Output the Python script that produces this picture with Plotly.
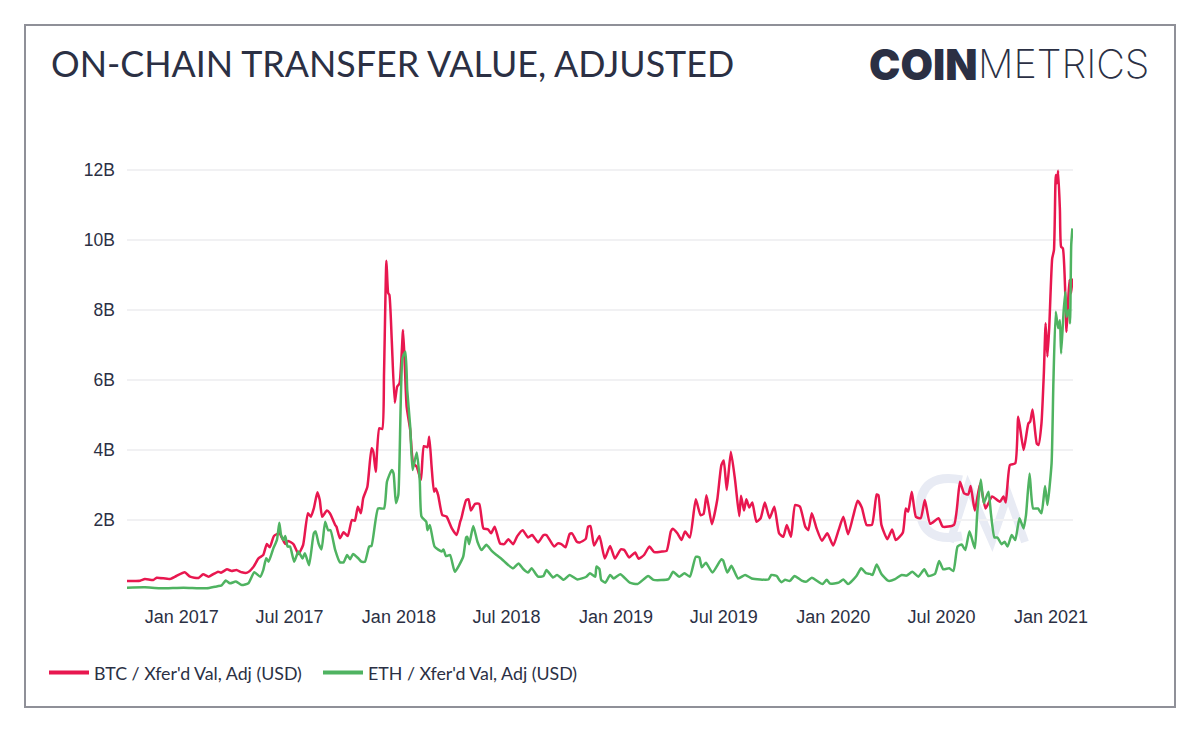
import plotly.graph_objects as go
import pandas as pd

start_date = "2016-10-01"

# values in billions of USD, days counted from start_date
btc_days = [0,22,30,44,50,72,83,97,106,120,128,137,153,158,168,176,184,193,202,212,221,229,235,240,247,256,266,271,280,288,296,304,309,314,320,324,328,336,341,350,352,358,364,371,378,383,388,393,397,404,411,414,418,424,429,432,436,439,441,445,450,454,458,464,467,470,476,481,487,494,499,505,508,512,516,519,523,530,537,546,554,560,
    562,570,574,578,585,592,599,607,612,618,627,634,641,649,656,665,674,681,691,700,705,718,724,730,737,744,748,756,761,771,775,779,785,794,803,812,820,830,836,844,854,860,869,878,886,899,907,914,917,925,932,938,946,956,964,969,974,983,992,999,1003,1008,1015,1022,1029,1032,1037,1041,1046,1051,1058,1065,1072,1080,1088,1096,
    1103,1109,1116,1123,1131,1140,1145,1151,1159,1168,1177,1187,1196,1204,1212,1221,1228,1235,1243,1252,1260,1263,1268,1278,1286,1292,1304,1309,1313,1319,1326,1334,1341,1350,1364,1371,1390,1400,1407,1414,1418,1425,1434,1443,1454,1467,1473,1477,1484,1493,1498,1507,1515,1518,1522,1529,1532,1537,1541,1544,1547,1550,1555,1558,1561,1563,1565,1568,1570,1573,1577,1579,1581,1584,1587,1589]
btc_vals = [.257,.267,.314,.286,.352,.314,.40,.505,.381,.343,.448,.381,.524,.495,.59,.543,.571,.505,.495,.648,.905,1.0,1.314,1.22,1.543,1.62,1.314,1.40,1.305,1.03,1.286,2.19,2.095,2.33,2.79,2.57,2.095,2.27,2.19,1.857,1.81,1.476,1.648,1.54,2.0,1.98,2.38,2.19,2.62,2.95,4.05,3.95,3.38,4.62,4.6,6.19,9.41,8.48,8.43,7.14,5.35,5.81,5.9,7.43,6.38,5.24,4.57,3.62,3.52,3.14,4.11,4.08,4.38,3.52,2.81,2.9,2.71,2.14,2.1,1.76,1.57,1.95,
    2.05,2.57,2.59,2.27,2.46,2.46,1.76,1.73,1.62,1.81,1.33,1.31,1.45,1.31,1.54,1.71,1.50,1.57,1.36,1.57,1.57,1.24,1.33,1.31,1.22,1.60,1.62,1.38,1.36,1.46,1.81,1.83,1.27,1.54,.90,1.26,.90,1.16,1.14,.93,1.07,.89,1.0,1.24,1.08,1.10,1.12,1.67,1.75,1.62,1.43,1.67,1.50,2.59,2.14,2.17,2.71,1.88,2.57,3.57,3.70,2.86,3.95,3.14,2.11,2.69,2.27,2.59,2.36,2.5,1.95,2.05,2.5,2.05,2.38,1.62,
    1.52,1.86,1.52,2.43,2.38,1.81,1.71,2.19,1.76,1.41,1.62,1.27,1.71,2.09,1.59,2.14,2.55,2.36,1.86,1.86,2.73,2.71,1.86,1.45,1.73,1.43,1.64,2.33,2.24,2.81,2.09,2.05,2.57,1.89,2.05,1.81,1.86,3.09,2.76,2.73,2.97,2.27,3.05,2.33,2.67,2.52,2.67,2.5,3.57,3.62,4.95,4.0,4.76,4.81,5.16,4.19,4.14,4.76,6.19,7.62,6.67,7.48,9.47,9.71,11.86,11.62,11.98,10.86,9.81,9.76,8.48,7.38,8.0,8.86,8.48,8.9]

eth_days = [0,30,55,95,134,148,159,166,173,183,193,204,214,224,229,234,238,246,252,256,259,263,266,270,274,281,288,295,299,306,314,317,322,327,333,338,342,350,358,364,370,375,380,389,394,400,407,411,422,432,437,445,448,452,456,463,468,471,476,480,487,492,495,503,505,509,517,529,532,536,543,551,
    565,570,572,575,582,589,596,604,613,621,630,641,649,658,666,674,680,691,700,705,716,723,734,744,757,772,778,787,789,794,797,804,812,818,829,845,858,876,885,910,918,928,937,946,956,962,966,973,984,999,1002,1009,1016,1027,1039,1050,1078,1083,1092,1097,
    1100,1106,1114,1122,1134,1142,1151,1169,1176,1182,1196,1204,1212,1226,1234,1242,1249,1253,1260,1268,1280,1291,1302,1310,1320,1330,1340,1347,1358,1365,1372,1382,1389,1396,1403,1409,1416,1425,1429,1435,1440,1448,1452,1458,1463,1470,1475,1480,1487,1493,1500,1507,1511,1517,1523,1531,1537,1543,1547,1554,1557,1561,1565,1568,1570,1574,1577,1579,1583,1585,1587,1589]
eth_vals = [.066,.076,.05,.066,.05,.095,.13,.27,.19,.24,.14,.19,.505,.38,.57,.905,.81,1.19,1.43,1.92,1.57,1.43,1.54,1.24,1.24,.81,1.10,.90,1.05,.71,1.62,1.67,1.33,1.16,1.95,1.71,1.71,1.14,.79,.79,1.0,.88,1.03,.90,.81,.81,1.24,1.26,2.33,2.33,3.10,3.43,3.33,2.48,2.71,6.62,6.81,5.71,4.67,3.43,3.93,3.14,2.10,1.95,1.71,1.86,1.24,1.10,1.16,.97,1.0,.52,
    .95,1.50,1.52,1.31,1.83,1.38,1.14,1.29,1.12,1.0,.88,.71,.62,.76,.60,.50,.62,.38,.40,.57,.36,.43,.29,.43,.30,.38,.48,.38,.67,.60,.29,.21,.43,.33,.45,.21,.17,.40,.29,.31,.52,.38,.48,.38,.95,.93,.65,.78,.50,.88,.84,.50,.69,.33,.43,.33,.30,.43,.40,.27,
    .22,.29,.26,.40,.27,.24,.35,.17,.29,.18,.21,.30,.17,.40,.62,.48,.46,.43,.73,.46,.26,.31,.43,.41,.52,.38,.59,.40,.46,.83,.59,.62,.54,1.24,1.30,1.14,1.68,1.19,2.19,3.16,2.48,2.81,2.19,1.50,1.50,1.31,1.38,1.24,1.57,1.43,2.05,1.76,2.14,3.33,2.33,2.33,2.19,2.97,2.43,3.62,5.9,7.95,7.48,7.71,6.76,7.9,8.52,7.81,8.0,7.62,9.86,10.33]

btc_name = "BTC / Xfer'd Val, Adj (USD)"
eth_name = "ETH / Xfer'd Val, Adj (USD)"
y_ticks = [2, 4, 6, 8, 10, 12]
y_labels = ["2B", "4B", "6B", "8B", "10B", "12B"]
x_ticks = ["2017-01-01", "2017-07-01", "2018-01-01", "2018-07-01", "2019-01-01",
           "2019-07-01", "2020-01-01", "2020-07-01", "2021-01-01"]
x_labels = ["Jan 2017", "Jul 2017", "Jan 2018", "Jul 2018", "Jan 2019",
            "Jul 2019", "Jan 2020", "Jul 2020", "Jan 2021"]

DARK = "#2b3044"
BTC_COLOR = "#e8174f"
ETH_COLOR = "#4fb361"
# the page body has an 8px margin, everything below is in window pixels
PAGE = 8
WIDTH, HEIGHT = 1192, 724
LEFT, RIGHT, TOP, BOTTOM = 127 - PAGE, 1073 - PAGE, 165 - PAGE, 590 - PAGE


def px(x):
    return (x - PAGE - LEFT) / (RIGHT - LEFT)


def py(y):
    return (BOTTOM - (y - PAGE)) / (BOTTOM - TOP)


def to_dates(days):
    return pd.Timestamp(start_date) + pd.to_timedelta(days, unit="D")


fig = go.Figure()

fig.add_trace(go.Scatter(x=to_dates(btc_days), y=btc_vals, mode="lines", showlegend=False,
                         line=dict(color=BTC_COLOR, width=2.5, shape="spline", smoothing=0.5)))
fig.add_trace(go.Scatter(x=to_dates(eth_days), y=eth_vals, mode="lines", showlegend=False,
                         line=dict(color=ETH_COLOR, width=2.5, shape="spline", smoothing=0.5)))
# legend keys are thicker than the lines
fig.add_trace(go.Scatter(x=[None], y=[None], name=btc_name, mode="lines",
                         line=dict(color=BTC_COLOR, width=4)))
fig.add_trace(go.Scatter(x=[None], y=[None], name=eth_name, mode="lines",
                         line=dict(color=ETH_COLOR, width=4)))

# watermark and outer frame
mark = "#e8ebf4"
fig.add_shape(type="path", xref="paper", yref="paper", layer="below",
              path=f"M {px(962)} {py(480)} Q {px(921)} {py(472)} {px(920)} {py(508)} "
                   f"Q {px(921)} {py(544)} {px(962)} {py(536)}",
              line=dict(color=mark, width=9))
fig.add_shape(type="path", xref="paper", yref="paper", layer="below",
              path=f"M {px(950)} {py(542)} L {px(968)} {py(486)} L {px(992)} {py(541)} "
                   f"L {px(1008)} {py(494)} L {px(1025)} {py(542)}",
              line=dict(color=mark, width=8))
fig.add_shape(type="rect", xref="paper", yref="paper",
              x0=px(25), x1=px(1175), y0=py(707), y1=py(25),
              line=dict(color="#8f9098", width=2))

# title and logo
fig.add_annotation(text="ON-CHAIN TRANSFER VALUE, ADJUSTED", xref="paper", yref="paper",
                   x=px(49), y=py(63), xanchor="left", yanchor="middle", showarrow=False,
                   font=dict(family="Lato", size=35.8, color=DARK))
fig.add_annotation(text="COIN", xref="paper", yref="paper",
                   x=px(980), y=py(64), xanchor="right", yanchor="middle", showarrow=False,
                   font=dict(family="Inter", size=42, color=DARK, weight=900))
fig.add_annotation(text="METRICS", xref="paper", yref="paper",
                   x=px(976), y=py(64), xanchor="left", yanchor="middle", showarrow=False,
                   font=dict(family="Inter", size=39.5, color=DARK, weight=200))

fig.update_layout(
    width=WIDTH,
    height=HEIGHT,
    margin=dict(l=LEFT, r=WIDTH - RIGHT, t=TOP, b=HEIGHT - BOTTOM, autoexpand=False),
    paper_bgcolor="white",
    plot_bgcolor="white",
    showlegend=True,
    legend=dict(orientation="h", x=px(44), y=py(673), xanchor="left", yanchor="middle",
                itemwidth=40, font=dict(family="Lato", size=17.8, color=DARK),
                entrywidth=219, entrywidthmode="pixels",
                traceorder="normal", itemclick=False),
    xaxis=dict(range=[to_dates([0])[0], to_dates([1590])[0]], tickmode="array",
               tickvals=x_ticks, ticktext=x_labels, showgrid=False, zeroline=False,
               showline=False, ticks="", ticklen=0, ticklabelstandoff=14,
               tickfont=dict(family="Liberation Sans", size=18, color=DARK)),
    yaxis=dict(range=[0, 425 / 35], tickmode="array", tickvals=y_ticks, ticktext=y_labels,
               showgrid=True, gridcolor="#f1f1f3", gridwidth=1.5, zeroline=False,
               showline=False, ticks="", ticklen=0, ticklabelstandoff=11,
               tickfont=dict(family="Liberation Sans", size=17.5, color=DARK)),
)

fig.write_html("out.html")
